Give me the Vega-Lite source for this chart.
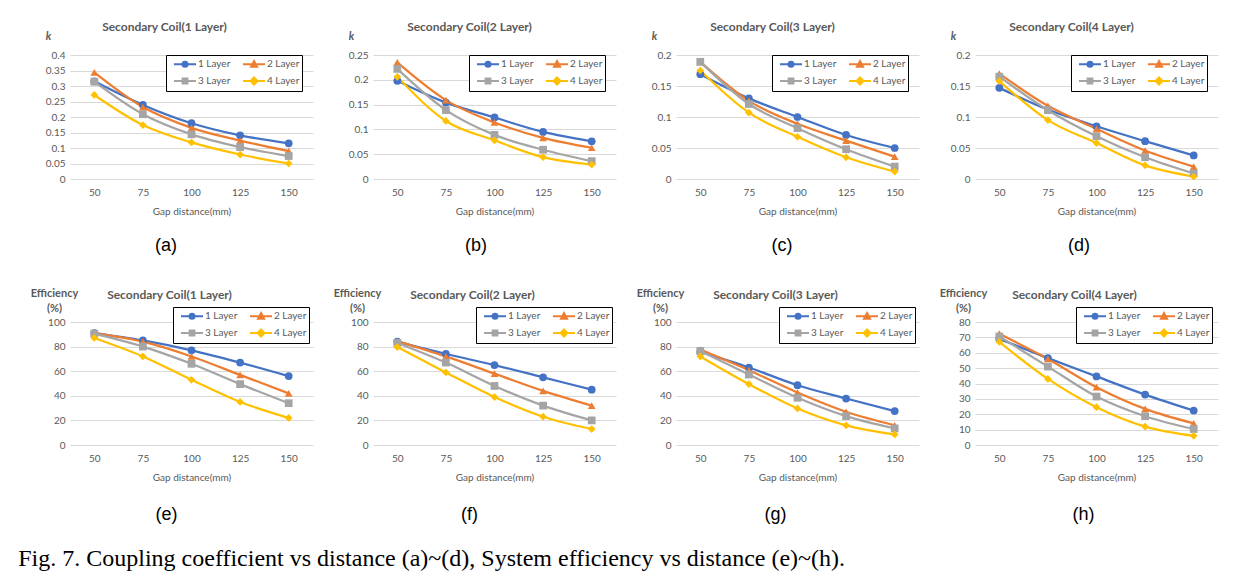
{
"$schema": "https://vega.github.io/schema/vega-lite/v6.json",
"padding": {"left": 18, "top": 21, "right": 4, "bottom": 4},
"title": {"text": "Fig. 7. Coupling coefficient vs distance (a)~(d), System efficiency vs distance (e)~(h).", "orient": "bottom", "anchor": "start", "frame": "bounds", "font": "Liberation Serif", "fontSize": 24, "fontWeight": "normal", "color": "#000000", "offset": 23, "dx": -12},
"columns": 4,
"spacing": {"row": 32, "column": 20},
"resolve": {"scale": {"color": "independent", "shape": "independent"}, "legend": {"color": "independent", "shape": "independent"}},
"datasets": {
"a": [
{"gap":50,"series":"1 Layer","value":0.315},{"gap":75,"series":"1 Layer","value":0.239},{"gap":100,"series":"1 Layer","value":0.18},{"gap":125,"series":"1 Layer","value":0.141},{"gap":150,"series":"1 Layer","value":0.115},
{"gap":50,"series":"2 Layer","value":0.344},{"gap":75,"series":"2 Layer","value":0.232},{"gap":100,"series":"2 Layer","value":0.165},{"gap":125,"series":"2 Layer","value":0.124},{"gap":150,"series":"2 Layer","value":0.09},
{"gap":50,"series":"3 Layer","value":0.314},{"gap":75,"series":"3 Layer","value":0.209},{"gap":100,"series":"3 Layer","value":0.144},{"gap":125,"series":"3 Layer","value":0.103},{"gap":150,"series":"3 Layer","value":0.074},
{"gap":50,"series":"4 Layer","value":0.271},{"gap":75,"series":"4 Layer","value":0.174},{"gap":100,"series":"4 Layer","value":0.118},{"gap":125,"series":"4 Layer","value":0.079},{"gap":150,"series":"4 Layer","value":0.05}],
"b": [
{"gap":50,"series":"1 Layer","value":0.198},{"gap":75,"series":"1 Layer","value":0.154},{"gap":100,"series":"1 Layer","value":0.124},{"gap":125,"series":"1 Layer","value":0.095},{"gap":150,"series":"1 Layer","value":0.076},
{"gap":50,"series":"2 Layer","value":0.235},{"gap":75,"series":"2 Layer","value":0.159},{"gap":100,"series":"2 Layer","value":0.114},{"gap":125,"series":"2 Layer","value":0.083},{"gap":150,"series":"2 Layer","value":0.063},
{"gap":50,"series":"3 Layer","value":0.222},{"gap":75,"series":"3 Layer","value":0.139},{"gap":100,"series":"3 Layer","value":0.089},{"gap":125,"series":"3 Layer","value":0.059},{"gap":150,"series":"3 Layer","value":0.036},
{"gap":50,"series":"4 Layer","value":0.206},{"gap":75,"series":"4 Layer","value":0.117},{"gap":100,"series":"4 Layer","value":0.078},{"gap":125,"series":"4 Layer","value":0.044},{"gap":150,"series":"4 Layer","value":0.029}],
"c": [
{"gap":50,"series":"1 Layer","value":0.169},{"gap":75,"series":"1 Layer","value":0.130},{"gap":100,"series":"1 Layer","value":0.100},{"gap":125,"series":"1 Layer","value":0.071},{"gap":150,"series":"1 Layer","value":0.050},
{"gap":50,"series":"2 Layer","value":0.189},{"gap":75,"series":"2 Layer","value":0.126},{"gap":100,"series":"2 Layer","value":0.089},{"gap":125,"series":"2 Layer","value":0.062},{"gap":150,"series":"2 Layer","value":0.036},
{"gap":50,"series":"3 Layer","value":0.189},{"gap":75,"series":"3 Layer","value":0.121},{"gap":100,"series":"3 Layer","value":0.082},{"gap":125,"series":"3 Layer","value":0.048},{"gap":150,"series":"3 Layer","value":0.020},
{"gap":50,"series":"4 Layer","value":0.175},{"gap":75,"series":"4 Layer","value":0.107},{"gap":100,"series":"4 Layer","value":0.068},{"gap":125,"series":"4 Layer","value":0.035},{"gap":150,"series":"4 Layer","value":0.012}],
"d": [
{"gap":50,"series":"1 Layer","value":0.147},{"gap":75,"series":"1 Layer","value":0.112},{"gap":100,"series":"1 Layer","value":0.085},{"gap":125,"series":"1 Layer","value":0.061},{"gap":150,"series":"1 Layer","value":0.038},
{"gap":50,"series":"2 Layer","value":0.170},{"gap":75,"series":"2 Layer","value":0.118},{"gap":100,"series":"2 Layer","value":0.081},{"gap":125,"series":"2 Layer","value":0.046},{"gap":150,"series":"2 Layer","value":0.020},
{"gap":50,"series":"3 Layer","value":0.165},{"gap":75,"series":"3 Layer","value":0.111},{"gap":100,"series":"3 Layer","value":0.069},{"gap":125,"series":"3 Layer","value":0.035},{"gap":150,"series":"3 Layer","value":0.009},
{"gap":50,"series":"4 Layer","value":0.158},{"gap":75,"series":"4 Layer","value":0.095},{"gap":100,"series":"4 Layer","value":0.058},{"gap":125,"series":"4 Layer","value":0.022},{"gap":150,"series":"4 Layer","value":0.004}],
"e": [
{"gap":50,"series":"1 Layer","value":91},{"gap":75,"series":"1 Layer","value":85},{"gap":100,"series":"1 Layer","value":77},{"gap":125,"series":"1 Layer","value":67},{"gap":150,"series":"1 Layer","value":56},
{"gap":50,"series":"2 Layer","value":91},{"gap":75,"series":"2 Layer","value":84},{"gap":100,"series":"2 Layer","value":72},{"gap":125,"series":"2 Layer","value":57},{"gap":150,"series":"2 Layer","value":42},
{"gap":50,"series":"3 Layer","value":90.5},{"gap":75,"series":"3 Layer","value":80},{"gap":100,"series":"3 Layer","value":66},{"gap":125,"series":"3 Layer","value":49.5},{"gap":150,"series":"3 Layer","value":34},
{"gap":50,"series":"4 Layer","value":87},{"gap":75,"series":"4 Layer","value":72},{"gap":100,"series":"4 Layer","value":53},{"gap":125,"series":"4 Layer","value":35},{"gap":150,"series":"4 Layer","value":22}],
"f": [
{"gap":50,"series":"1 Layer","value":84},{"gap":75,"series":"1 Layer","value":74},{"gap":100,"series":"1 Layer","value":65},{"gap":125,"series":"1 Layer","value":55},{"gap":150,"series":"1 Layer","value":45},
{"gap":50,"series":"2 Layer","value":84.5},{"gap":75,"series":"2 Layer","value":72},{"gap":100,"series":"2 Layer","value":58},{"gap":125,"series":"2 Layer","value":44},{"gap":150,"series":"2 Layer","value":32},
{"gap":50,"series":"3 Layer","value":83},{"gap":75,"series":"3 Layer","value":67},{"gap":100,"series":"3 Layer","value":48},{"gap":125,"series":"3 Layer","value":32},{"gap":150,"series":"3 Layer","value":20},
{"gap":50,"series":"4 Layer","value":79.6},{"gap":75,"series":"4 Layer","value":59},{"gap":100,"series":"4 Layer","value":39},{"gap":125,"series":"4 Layer","value":23},{"gap":150,"series":"4 Layer","value":13}],
"g": [
{"gap":50,"series":"1 Layer","value":75.7},{"gap":75,"series":"1 Layer","value":63},{"gap":100,"series":"1 Layer","value":48.6},{"gap":125,"series":"1 Layer","value":37.8},{"gap":150,"series":"1 Layer","value":27.6},
{"gap":50,"series":"2 Layer","value":77.6},{"gap":75,"series":"2 Layer","value":60.8},{"gap":100,"series":"2 Layer","value":42.7},{"gap":125,"series":"2 Layer","value":27},{"gap":150,"series":"2 Layer","value":16},
{"gap":50,"series":"3 Layer","value":76.5},{"gap":75,"series":"3 Layer","value":57.3},{"gap":100,"series":"3 Layer","value":38.4},{"gap":125,"series":"3 Layer","value":23.5},{"gap":150,"series":"3 Layer","value":13.5},
{"gap":50,"series":"4 Layer","value":72},{"gap":75,"series":"4 Layer","value":49.5},{"gap":100,"series":"4 Layer","value":29.7},{"gap":125,"series":"4 Layer","value":16},{"gap":150,"series":"4 Layer","value":8.6}],
"h": [
{"gap":50,"series":"1 Layer","value":69},{"gap":75,"series":"1 Layer","value":56.5},{"gap":100,"series":"1 Layer","value":44.6},{"gap":125,"series":"1 Layer","value":32.8},{"gap":150,"series":"1 Layer","value":22.4},
{"gap":50,"series":"2 Layer","value":72.4},{"gap":75,"series":"2 Layer","value":56},{"gap":100,"series":"2 Layer","value":37.6},{"gap":125,"series":"2 Layer","value":23.5},{"gap":150,"series":"2 Layer","value":14.1},
{"gap":50,"series":"3 Layer","value":70.6},{"gap":75,"series":"3 Layer","value":51},{"gap":100,"series":"3 Layer","value":31.5},{"gap":125,"series":"3 Layer","value":18.7},{"gap":150,"series":"3 Layer","value":10.4},
{"gap":50,"series":"4 Layer","value":67},{"gap":75,"series":"4 Layer","value":43},{"gap":100,"series":"4 Layer","value":24.6},{"gap":125,"series":"4 Layer","value":12},{"gap":150,"series":"4 Layer","value":6}]
},
"concat": [
{"title": {"text": "(a)", "orient": "bottom", "anchor": "middle", "font": "Liberation Sans", "fontSize": 18, "fontWeight": "normal", "color": "#000000", "offset": 21, "dx": -13},
 "resolve": {"scale": {"color": "independent", "shape": "independent"}, "legend": {"color": "independent", "shape": "independent"}},
 "vconcat": [{"width": 243, "height": 124, "data": {"name": "a"}, "title": {"text": "Secondary Coil(1 Layer)", "offset": -4, "dx": -27},
  "encoding": {
   "x": {"field": "gap", "type": "ordinal", "title": "Gap distance(mm)"},
   "y": {"field": "value", "type": "quantitative", "scale": {"domain": [0, 0.4], "nice": false}, "axis": {"values": [0,0.05,0.1,0.15,0.2,0.25,0.3,0.35,0.4], "format": ".2~f", "title": "k", "titleX": -22, "titleY": -19, "titleFontStyle": "italic", "titleFontWeight": "bold", "titleFontSize": 11, "titleAlign": "center", "titleBaseline": "middle"}},
   "color": {"field": "series", "type": "nominal", "scale": {"domain": ["1 Layer","2 Layer","3 Layer","4 Layer"], "range": ["#4472C4","#ED7D31","#A5A5A5","#FFC000"]},
    "legend": {"title": null, "orient": "none", "legendX": 96, "legendY": 0, "encode": {"symbols": {"update": {"shape": {"signal": "datum.value === '1 Layer' ? 'M-0.17,0H3.5M2.09,0A0.42,0.42,0,1,1,1.25,0A0.42,0.42,0,1,1,2.09,0Z' : datum.value === '2 Layer' ? 'M-0.17,0H3.5M1.67,-0.55L2.17,0.38L1.17,0.38Z' : datum.value === '3 Layer' ? 'M-0.17,0H3.5M1.27,-0.4H2.07V0.4H1.27Z' : 'M-0.17,0H3.5M1.67,-0.58L2.25,0L1.67,0.58L1.09,0Z'"}, "fill": {"signal": "datum.value === '1 Layer' ? '#4472C4' : datum.value === '2 Layer' ? '#ED7D31' : datum.value === '3 Layer' ? '#A5A5A5' : '#FFC000'"}, "stroke": {"signal": "datum.value === '1 Layer' ? '#4472C4' : datum.value === '2 Layer' ? '#ED7D31' : datum.value === '3 Layer' ? '#A5A5A5' : '#FFC000'"}, "strokeWidth": {"value": 2}, "size": {"value": 144}, "opacity": {"value": 1}}}}}}
  },
  "layer": [
   {"mark": {"type": "line", "interpolate": "monotone", "strokeWidth": 2.25}},
   {"mark": {"type": "point", "filled": true, "size": 60, "opacity": 1}, "encoding": {"shape": {"field": "series", "type": "nominal", "scale": {"range": ["circle","triangle-up","square","diamond"]}, "legend": null}}}
  ]}]},
{"title": {"text": "(b)", "orient": "bottom", "anchor": "middle", "font": "Liberation Sans", "fontSize": 18, "fontWeight": "normal", "color": "#000000", "offset": 21, "dx": -6},
 "resolve": {"scale": {"color": "independent", "shape": "independent"}, "legend": {"color": "independent", "shape": "independent"}},
 "vconcat": [{"width": 243, "height": 124, "data": {"name": "b"}, "title": {"text": "Secondary Coil(2 Layer)", "offset": -4, "dx": -25},
  "encoding": {
   "x": {"field": "gap", "type": "ordinal", "title": "Gap distance(mm)"},
   "y": {"field": "value", "type": "quantitative", "scale": {"domain": [0, 0.25], "nice": false}, "axis": {"values": [0,0.05,0.1,0.15,0.2,0.25], "format": ".2~f", "title": "k", "titleX": -22, "titleY": -19, "titleFontStyle": "italic", "titleFontWeight": "bold", "titleFontSize": 11, "titleAlign": "center", "titleBaseline": "middle"}},
   "color": {"field": "series", "type": "nominal", "scale": {"domain": ["1 Layer","2 Layer","3 Layer","4 Layer"], "range": ["#4472C4","#ED7D31","#A5A5A5","#FFC000"]},
    "legend": {"title": null, "orient": "none", "legendX": 96, "legendY": 0, "encode": {"symbols": {"update": {"shape": {"signal": "datum.value === '1 Layer' ? 'M-0.17,0H3.5M2.09,0A0.42,0.42,0,1,1,1.25,0A0.42,0.42,0,1,1,2.09,0Z' : datum.value === '2 Layer' ? 'M-0.17,0H3.5M1.67,-0.55L2.17,0.38L1.17,0.38Z' : datum.value === '3 Layer' ? 'M-0.17,0H3.5M1.27,-0.4H2.07V0.4H1.27Z' : 'M-0.17,0H3.5M1.67,-0.58L2.25,0L1.67,0.58L1.09,0Z'"}, "fill": {"signal": "datum.value === '1 Layer' ? '#4472C4' : datum.value === '2 Layer' ? '#ED7D31' : datum.value === '3 Layer' ? '#A5A5A5' : '#FFC000'"}, "stroke": {"signal": "datum.value === '1 Layer' ? '#4472C4' : datum.value === '2 Layer' ? '#ED7D31' : datum.value === '3 Layer' ? '#A5A5A5' : '#FFC000'"}, "strokeWidth": {"value": 2}, "size": {"value": 144}, "opacity": {"value": 1}}}}}}
  },
  "layer": [
   {"mark": {"type": "line", "interpolate": "monotone", "strokeWidth": 2.25}},
   {"mark": {"type": "point", "filled": true, "size": 60, "opacity": 1}, "encoding": {"shape": {"field": "series", "type": "nominal", "scale": {"range": ["circle","triangle-up","square","diamond"]}, "legend": null}}}
  ]}]},
{"title": {"text": "(c)", "orient": "bottom", "anchor": "middle", "font": "Liberation Sans", "fontSize": 18, "fontWeight": "normal", "color": "#000000", "offset": 21, "dx": -3},
 "resolve": {"scale": {"color": "independent", "shape": "independent"}, "legend": {"color": "independent", "shape": "independent"}},
 "vconcat": [{"width": 243, "height": 124, "data": {"name": "c"}, "title": {"text": "Secondary Coil(3 Layer)", "offset": -4, "dx": -25},
  "encoding": {
   "x": {"field": "gap", "type": "ordinal", "title": "Gap distance(mm)"},
   "y": {"field": "value", "type": "quantitative", "scale": {"domain": [0, 0.2], "nice": false}, "axis": {"values": [0,0.05,0.1,0.15,0.2], "format": ".2~f", "title": "k", "titleX": -22, "titleY": -19, "titleFontStyle": "italic", "titleFontWeight": "bold", "titleFontSize": 11, "titleAlign": "center", "titleBaseline": "middle"}},
   "color": {"field": "series", "type": "nominal", "scale": {"domain": ["1 Layer","2 Layer","3 Layer","4 Layer"], "range": ["#4472C4","#ED7D31","#A5A5A5","#FFC000"]},
    "legend": {"title": null, "orient": "none", "legendX": 96, "legendY": 0, "encode": {"symbols": {"update": {"shape": {"signal": "datum.value === '1 Layer' ? 'M-0.17,0H3.5M2.09,0A0.42,0.42,0,1,1,1.25,0A0.42,0.42,0,1,1,2.09,0Z' : datum.value === '2 Layer' ? 'M-0.17,0H3.5M1.67,-0.55L2.17,0.38L1.17,0.38Z' : datum.value === '3 Layer' ? 'M-0.17,0H3.5M1.27,-0.4H2.07V0.4H1.27Z' : 'M-0.17,0H3.5M1.67,-0.58L2.25,0L1.67,0.58L1.09,0Z'"}, "fill": {"signal": "datum.value === '1 Layer' ? '#4472C4' : datum.value === '2 Layer' ? '#ED7D31' : datum.value === '3 Layer' ? '#A5A5A5' : '#FFC000'"}, "stroke": {"signal": "datum.value === '1 Layer' ? '#4472C4' : datum.value === '2 Layer' ? '#ED7D31' : datum.value === '3 Layer' ? '#A5A5A5' : '#FFC000'"}, "strokeWidth": {"value": 2}, "size": {"value": 144}, "opacity": {"value": 1}}}}}}
  },
  "layer": [
   {"mark": {"type": "line", "interpolate": "monotone", "strokeWidth": 2.25}},
   {"mark": {"type": "point", "filled": true, "size": 60, "opacity": 1}, "encoding": {"shape": {"field": "series", "type": "nominal", "scale": {"range": ["circle","triangle-up","square","diamond"]}, "legend": null}}}
  ]}]},
{"title": {"text": "(d)", "orient": "bottom", "anchor": "middle", "font": "Liberation Sans", "fontSize": 18, "fontWeight": "normal", "color": "#000000", "offset": 21, "dx": -5},
 "resolve": {"scale": {"color": "independent", "shape": "independent"}, "legend": {"color": "independent", "shape": "independent"}},
 "vconcat": [{"width": 243, "height": 124, "data": {"name": "d"}, "title": {"text": "Secondary Coil(4 Layer)", "offset": -4, "dx": -25},
  "encoding": {
   "x": {"field": "gap", "type": "ordinal", "title": "Gap distance(mm)"},
   "y": {"field": "value", "type": "quantitative", "scale": {"domain": [0, 0.2], "nice": false}, "axis": {"values": [0,0.05,0.1,0.15,0.2], "format": ".2~f", "title": "k", "titleX": -22, "titleY": -19, "titleFontStyle": "italic", "titleFontWeight": "bold", "titleFontSize": 11, "titleAlign": "center", "titleBaseline": "middle"}},
   "color": {"field": "series", "type": "nominal", "scale": {"domain": ["1 Layer","2 Layer","3 Layer","4 Layer"], "range": ["#4472C4","#ED7D31","#A5A5A5","#FFC000"]},
    "legend": {"title": null, "orient": "none", "legendX": 96, "legendY": 0, "encode": {"symbols": {"update": {"shape": {"signal": "datum.value === '1 Layer' ? 'M-0.17,0H3.5M2.09,0A0.42,0.42,0,1,1,1.25,0A0.42,0.42,0,1,1,2.09,0Z' : datum.value === '2 Layer' ? 'M-0.17,0H3.5M1.67,-0.55L2.17,0.38L1.17,0.38Z' : datum.value === '3 Layer' ? 'M-0.17,0H3.5M1.27,-0.4H2.07V0.4H1.27Z' : 'M-0.17,0H3.5M1.67,-0.58L2.25,0L1.67,0.58L1.09,0Z'"}, "fill": {"signal": "datum.value === '1 Layer' ? '#4472C4' : datum.value === '2 Layer' ? '#ED7D31' : datum.value === '3 Layer' ? '#A5A5A5' : '#FFC000'"}, "stroke": {"signal": "datum.value === '1 Layer' ? '#4472C4' : datum.value === '2 Layer' ? '#ED7D31' : datum.value === '3 Layer' ? '#A5A5A5' : '#FFC000'"}, "strokeWidth": {"value": 2}, "size": {"value": 144}, "opacity": {"value": 1}}}}}}
  },
  "layer": [
   {"mark": {"type": "line", "interpolate": "monotone", "strokeWidth": 2.25}},
   {"mark": {"type": "point", "filled": true, "size": 60, "opacity": 1}, "encoding": {"shape": {"field": "series", "type": "nominal", "scale": {"range": ["circle","triangle-up","square","diamond"]}, "legend": null}}}
  ]}]},
{"title": {"text": "(e)", "orient": "bottom", "anchor": "middle", "font": "Liberation Sans", "fontSize": 18, "fontWeight": "normal", "color": "#000000", "offset": 24, "dx": -5},
 "resolve": {"scale": {"color": "independent", "shape": "independent"}, "legend": {"color": "independent", "shape": "independent"}},
 "vconcat": [{"width": 243, "height": 123, "data": {"name": "e"}, "title": {"text": "Secondary Coil(1 Layer)", "offset": -15, "dx": -22},
  "encoding": {
   "x": {"field": "gap", "type": "ordinal", "title": "Gap distance(mm)"},
   "y": {"field": "value", "type": "quantitative", "scale": {"domain": [0, 100], "nice": false}, "axis": {"values": [0,20,40,60,80,100], "format": "d", "title": ["Efficiency", "(%)"], "titleX": -16, "titleY": -35, "titleFontWeight": "bold", "titleFontSize": 11, "titleAlign": "center", "titleBaseline": "top", "titleLineHeight": 15}},
   "color": {"field": "series", "type": "nominal", "scale": {"domain": ["1 Layer","2 Layer","3 Layer","4 Layer"], "range": ["#4472C4","#ED7D31","#A5A5A5","#FFC000"]},
    "legend": {"title": null, "orient": "none", "legendX": 103, "legendY": -15, "encode": {"symbols": {"update": {"shape": {"signal": "datum.value === '1 Layer' ? 'M-0.17,0H3.5M2.09,0A0.42,0.42,0,1,1,1.25,0A0.42,0.42,0,1,1,2.09,0Z' : datum.value === '2 Layer' ? 'M-0.17,0H3.5M1.67,-0.55L2.17,0.38L1.17,0.38Z' : datum.value === '3 Layer' ? 'M-0.17,0H3.5M1.27,-0.4H2.07V0.4H1.27Z' : 'M-0.17,0H3.5M1.67,-0.58L2.25,0L1.67,0.58L1.09,0Z'"}, "fill": {"signal": "datum.value === '1 Layer' ? '#4472C4' : datum.value === '2 Layer' ? '#ED7D31' : datum.value === '3 Layer' ? '#A5A5A5' : '#FFC000'"}, "stroke": {"signal": "datum.value === '1 Layer' ? '#4472C4' : datum.value === '2 Layer' ? '#ED7D31' : datum.value === '3 Layer' ? '#A5A5A5' : '#FFC000'"}, "strokeWidth": {"value": 2}, "size": {"value": 144}, "opacity": {"value": 1}}}}}}
  },
  "layer": [
   {"mark": {"type": "line", "interpolate": "monotone", "strokeWidth": 2.25}},
   {"mark": {"type": "point", "filled": true, "size": 60, "opacity": 1}, "encoding": {"shape": {"field": "series", "type": "nominal", "scale": {"range": ["circle","triangle-up","square","diamond"]}, "legend": null}}}
  ]}]},
{"title": {"text": "(f)", "orient": "bottom", "anchor": "middle", "font": "Liberation Sans", "fontSize": 18, "fontWeight": "normal", "color": "#000000", "offset": 24, "dx": -5},
 "resolve": {"scale": {"color": "independent", "shape": "independent"}, "legend": {"color": "independent", "shape": "independent"}},
 "vconcat": [{"width": 243, "height": 123, "data": {"name": "f"}, "title": {"text": "Secondary Coil(2 Layer)", "offset": -15, "dx": -22},
  "encoding": {
   "x": {"field": "gap", "type": "ordinal", "title": "Gap distance(mm)"},
   "y": {"field": "value", "type": "quantitative", "scale": {"domain": [0, 100], "nice": false}, "axis": {"values": [0,20,40,60,80,100], "format": "d", "title": ["Efficiency", "(%)"], "titleX": -16, "titleY": -35, "titleFontWeight": "bold", "titleFontSize": 11, "titleAlign": "center", "titleBaseline": "top", "titleLineHeight": 15}},
   "color": {"field": "series", "type": "nominal", "scale": {"domain": ["1 Layer","2 Layer","3 Layer","4 Layer"], "range": ["#4472C4","#ED7D31","#A5A5A5","#FFC000"]},
    "legend": {"title": null, "orient": "none", "legendX": 103, "legendY": -15, "encode": {"symbols": {"update": {"shape": {"signal": "datum.value === '1 Layer' ? 'M-0.17,0H3.5M2.09,0A0.42,0.42,0,1,1,1.25,0A0.42,0.42,0,1,1,2.09,0Z' : datum.value === '2 Layer' ? 'M-0.17,0H3.5M1.67,-0.55L2.17,0.38L1.17,0.38Z' : datum.value === '3 Layer' ? 'M-0.17,0H3.5M1.27,-0.4H2.07V0.4H1.27Z' : 'M-0.17,0H3.5M1.67,-0.58L2.25,0L1.67,0.58L1.09,0Z'"}, "fill": {"signal": "datum.value === '1 Layer' ? '#4472C4' : datum.value === '2 Layer' ? '#ED7D31' : datum.value === '3 Layer' ? '#A5A5A5' : '#FFC000'"}, "stroke": {"signal": "datum.value === '1 Layer' ? '#4472C4' : datum.value === '2 Layer' ? '#ED7D31' : datum.value === '3 Layer' ? '#A5A5A5' : '#FFC000'"}, "strokeWidth": {"value": 2}, "size": {"value": 144}, "opacity": {"value": 1}}}}}}
  },
  "layer": [
   {"mark": {"type": "line", "interpolate": "monotone", "strokeWidth": 2.25}},
   {"mark": {"type": "point", "filled": true, "size": 60, "opacity": 1}, "encoding": {"shape": {"field": "series", "type": "nominal", "scale": {"range": ["circle","triangle-up","square","diamond"]}, "legend": null}}}
  ]}]},
{"title": {"text": "(g)", "orient": "bottom", "anchor": "middle", "font": "Liberation Sans", "fontSize": 18, "fontWeight": "normal", "color": "#000000", "offset": 24, "dx": -2},
 "resolve": {"scale": {"color": "independent", "shape": "independent"}, "legend": {"color": "independent", "shape": "independent"}},
 "vconcat": [{"width": 243, "height": 123, "data": {"name": "g"}, "title": {"text": "Secondary Coil(3 Layer)", "offset": -15, "dx": -22},
  "encoding": {
   "x": {"field": "gap", "type": "ordinal", "title": "Gap distance(mm)"},
   "y": {"field": "value", "type": "quantitative", "scale": {"domain": [0, 100], "nice": false}, "axis": {"values": [0,20,40,60,80,100], "format": "d", "title": ["Efficiency", "(%)"], "titleX": -16, "titleY": -35, "titleFontWeight": "bold", "titleFontSize": 11, "titleAlign": "center", "titleBaseline": "top", "titleLineHeight": 15}},
   "color": {"field": "series", "type": "nominal", "scale": {"domain": ["1 Layer","2 Layer","3 Layer","4 Layer"], "range": ["#4472C4","#ED7D31","#A5A5A5","#FFC000"]},
    "legend": {"title": null, "orient": "none", "legendX": 103, "legendY": -15, "encode": {"symbols": {"update": {"shape": {"signal": "datum.value === '1 Layer' ? 'M-0.17,0H3.5M2.09,0A0.42,0.42,0,1,1,1.25,0A0.42,0.42,0,1,1,2.09,0Z' : datum.value === '2 Layer' ? 'M-0.17,0H3.5M1.67,-0.55L2.17,0.38L1.17,0.38Z' : datum.value === '3 Layer' ? 'M-0.17,0H3.5M1.27,-0.4H2.07V0.4H1.27Z' : 'M-0.17,0H3.5M1.67,-0.58L2.25,0L1.67,0.58L1.09,0Z'"}, "fill": {"signal": "datum.value === '1 Layer' ? '#4472C4' : datum.value === '2 Layer' ? '#ED7D31' : datum.value === '3 Layer' ? '#A5A5A5' : '#FFC000'"}, "stroke": {"signal": "datum.value === '1 Layer' ? '#4472C4' : datum.value === '2 Layer' ? '#ED7D31' : datum.value === '3 Layer' ? '#A5A5A5' : '#FFC000'"}, "strokeWidth": {"value": 2}, "size": {"value": 144}, "opacity": {"value": 1}}}}}}
  },
  "layer": [
   {"mark": {"type": "line", "interpolate": "monotone", "strokeWidth": 2.25}},
   {"mark": {"type": "point", "filled": true, "size": 60, "opacity": 1}, "encoding": {"shape": {"field": "series", "type": "nominal", "scale": {"range": ["circle","triangle-up","square","diamond"]}, "legend": null}}}
  ]}]},
{"title": {"text": "(h)", "orient": "bottom", "anchor": "middle", "font": "Liberation Sans", "fontSize": 18, "fontWeight": "normal", "color": "#000000", "offset": 24, "dx": 5},
 "resolve": {"scale": {"color": "independent", "shape": "independent"}, "legend": {"color": "independent", "shape": "independent"}},
 "vconcat": [{"width": 243, "height": 123, "data": {"name": "h"}, "title": {"text": "Secondary Coil(4 Layer)", "offset": -15, "dx": -22},
  "encoding": {
   "x": {"field": "gap", "type": "ordinal", "title": "Gap distance(mm)"},
   "y": {"field": "value", "type": "quantitative", "scale": {"domain": [0, 80], "nice": false}, "axis": {"values": [0,10,20,30,40,50,60,70,80], "format": "d", "title": ["Efficiency", "(%)"], "titleX": -12, "titleY": -35, "titleFontWeight": "bold", "titleFontSize": 11, "titleAlign": "center", "titleBaseline": "top", "titleLineHeight": 15}},
   "color": {"field": "series", "type": "nominal", "scale": {"domain": ["1 Layer","2 Layer","3 Layer","4 Layer"], "range": ["#4472C4","#ED7D31","#A5A5A5","#FFC000"]},
    "legend": {"title": null, "orient": "none", "legendX": 101, "legendY": -15, "encode": {"symbols": {"update": {"shape": {"signal": "datum.value === '1 Layer' ? 'M-0.17,0H3.5M2.09,0A0.42,0.42,0,1,1,1.25,0A0.42,0.42,0,1,1,2.09,0Z' : datum.value === '2 Layer' ? 'M-0.17,0H3.5M1.67,-0.55L2.17,0.38L1.17,0.38Z' : datum.value === '3 Layer' ? 'M-0.17,0H3.5M1.27,-0.4H2.07V0.4H1.27Z' : 'M-0.17,0H3.5M1.67,-0.58L2.25,0L1.67,0.58L1.09,0Z'"}, "fill": {"signal": "datum.value === '1 Layer' ? '#4472C4' : datum.value === '2 Layer' ? '#ED7D31' : datum.value === '3 Layer' ? '#A5A5A5' : '#FFC000'"}, "stroke": {"signal": "datum.value === '1 Layer' ? '#4472C4' : datum.value === '2 Layer' ? '#ED7D31' : datum.value === '3 Layer' ? '#A5A5A5' : '#FFC000'"}, "strokeWidth": {"value": 2}, "size": {"value": 144}, "opacity": {"value": 1}}}}}}
  },
  "layer": [
   {"mark": {"type": "line", "interpolate": "monotone", "strokeWidth": 2.25}},
   {"mark": {"type": "point", "filled": true, "size": 60, "opacity": 1}, "encoding": {"shape": {"field": "series", "type": "nominal", "scale": {"range": ["circle","triangle-up","square","diamond"]}, "legend": null}}}
  ]}]}
],
"config": {
 "font": "Lato",
 "background": "#ffffff",
 "view": {"stroke": null},
 "axis": {"labelFont": "Lato", "labelFontSize": 10, "labelColor": "#595959", "ticks": false, "domain": false, "gridColor": "#D9D9D9", "gridWidth": 1, "titleFont": "Lato", "titleColor": "#595959", "titleFontSize": 10, "titleFontWeight": "normal"},
 "axisX": {"grid": false, "labelAngle": 0, "labelPadding": 8, "titlePadding": 9},
 "axisY": {"labelPadding": 5, "titleAngle": 0},
 "legend": {"labelFont": "Lato", "labelFontSize": 10, "labelColor": "#595959", "columns": 2, "direction": "horizontal", "columnPadding": 6, "rowPadding": 2, "padding": 2, "strokeColor": "#000000", "fillColor": "#ffffff", "symbolSize": 144, "symbolStrokeWidth": 2, "labelOffset": 16},
 "title": {"font": "Lato", "fontSize": 12, "fontWeight": "bold", "color": "#595959"}
}
}
